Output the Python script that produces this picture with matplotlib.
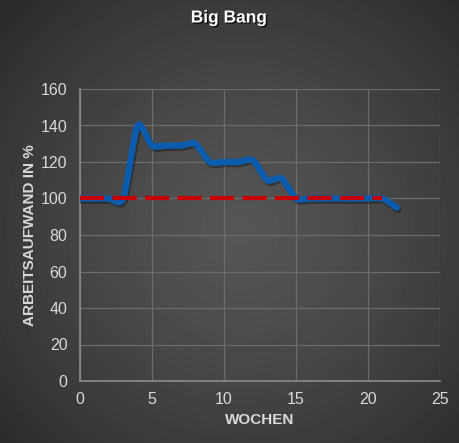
import numpy as np
import matplotlib
matplotlib.use("Agg")
import matplotlib.pyplot as plt
import matplotlib.patheffects as pe
from matplotlib.path import Path
from matplotlib.patches import PathPatch

plt.rcParams['font.family'] = ['Liberation Sans', 'DejaVu Sans']

# data
weeks = [0, 1, 2, 3, 4, 5, 6, 7, 8, 9, 10, 11, 12, 13, 14, 15, 16, 17, 18, 19, 20, 21, 22]
effort = [100, 100, 100, 100, 140, 129, 129, 129, 130, 120, 120, 120, 121, 110, 111, 100,
          100, 100, 100, 100, 100, 100, 95]
plan_weeks = [0, 21]
plan_effort = [100, 100]

x_ticks = [0, 5, 10, 15, 20, 25]
y_ticks = [0, 20, 40, 60, 80, 100, 120, 140, 160]

txt_col = '#d9d9d9'


def smooth_path(xs, ys, k=0.7):
    # catmull-rom -> cubic bezier, roughly like the smoothed line in excel
    pts = np.column_stack([xs, ys]).astype(float)
    verts = [pts[0]]
    codes = [Path.MOVETO]
    n = len(pts)
    for i in range(n - 1):
        p0 = pts[max(i - 1, 0)]
        p1 = pts[i]
        p2 = pts[i + 1]
        p3 = pts[min(i + 2, n - 1)]
        c1 = p1 + k * (p2 - p0) / 6.0
        c2 = p2 - k * (p3 - p1) / 6.0
        verts += [c1, c2, p2]
        codes += [Path.CURVE4] * 3
    return Path(verts, codes)


fig = plt.figure(figsize=(4.59, 4.43), dpi=100)

# radial gradient background
bg = fig.add_axes([0, 0, 1, 1], zorder=-10)
yy, xx = np.mgrid[0:443, 0:459]
r = np.sqrt(((xx - 240) / 330.0) ** 2 + ((yy - 230) / 330.0) ** 2)
r = np.clip(r, 0, 1)
grey = 0.335 - 0.17 * r ** 1.3
bg.imshow(grey, cmap='gray', vmin=0, vmax=1, aspect='auto', interpolation='bilinear')
bg.axis('off')

ax = fig.add_axes([80 / 459, 62 / 443, 360 / 459, 292 / 443])
ax.patch.set_alpha(0)

ax.set_xlim(0, 25)
ax.set_ylim(0, 160)
ax.set_xticks(x_ticks)
ax.set_yticks(y_ticks)
ax.grid(True, color='#6c6c6c', linewidth=0.9)
ax.set_axisbelow(True)
for s in ['top', 'right']:
    ax.spines[s].set_visible(False)
for s in ['left', 'bottom']:
    ax.spines[s].set_color('#8c8c8c')
    ax.spines[s].set_linewidth(1.2)
ax.tick_params(length=0, colors=txt_col, labelsize=11.5)
ax.tick_params(axis='y', pad=9)
ax.tick_params(axis='x', pad=8)

ax.set_xlabel('WOCHEN', color=txt_col, fontsize=11, fontweight='bold', labelpad=4)
ax.set_ylabel('ARBEITSAUFWAND IN %', color=txt_col, fontsize=11, fontweight='bold', labelpad=3)

line = PathPatch(smooth_path(weeks, effort), facecolor='none', edgecolor='#0b5cad',
                 linewidth=4.6, capstyle='round', joinstyle='round', zorder=3,
                 path_effects=[pe.SimpleLineShadow(offset=(1, -1.5), shadow_color='black', alpha=0.35),
                               pe.Normal()])
ax.add_patch(line)

red, = ax.plot(plan_weeks, plan_effort, color='#c80000', linewidth=3, zorder=4)
red.set_linestyle((0, (5.8, 2.0)))
red.set_dash_capstyle('butt')

fig.text(229 / 459, 1 - 18 / 443, 'Big Bang', ha='center', va='center', color='white',
         fontsize=12.5, fontweight='bold',
         path_effects=[pe.withSimplePatchShadow(offset=(1, -1), shadow_rgbFace='black', alpha=0.7)])

fig.savefig('out.png', dpi=100)
